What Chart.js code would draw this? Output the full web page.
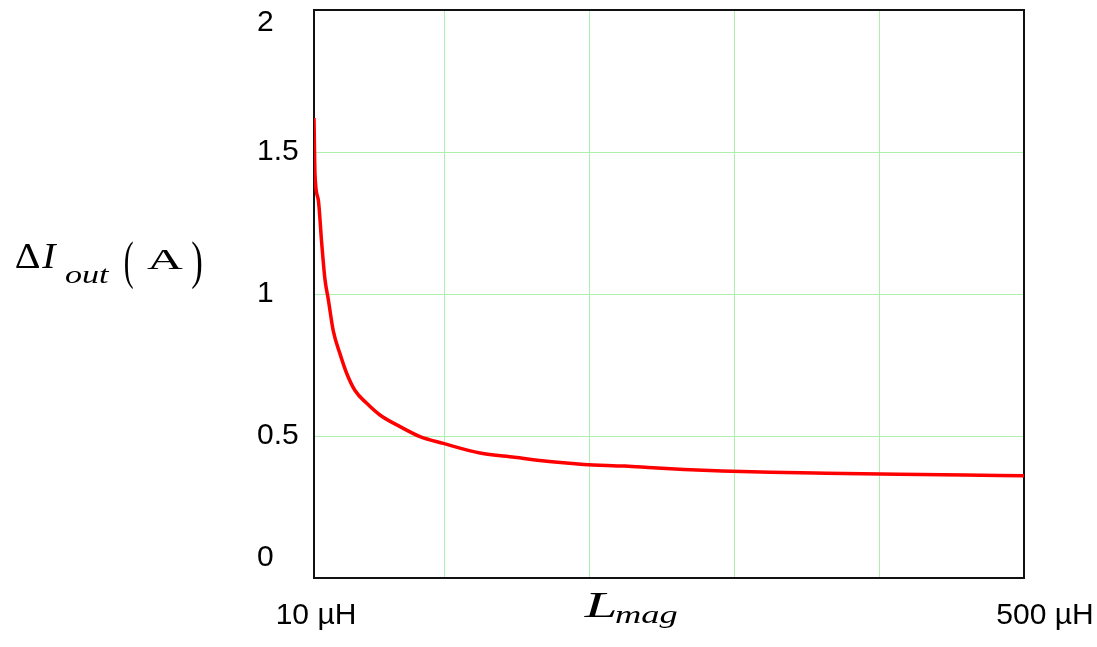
<!DOCTYPE html>
<html>
<head>
<meta charset="utf-8">
<script src="https://cdn.jsdelivr.net/npm/chart.js@4"></script>
<style>
  html, body { margin: 0; padding: 0; background: #fff; }
  #wrap { width: 1097px; height: 647px; position: relative; }
</style>
</head>
<body>
<div id="wrap"><canvas id="rippleChart"></canvas></div>
<script>
// Output current ripple against magnetizing inductance
const inductance = [10, 10.7, 13, 15.3, 17.6, 19.9, 23.3, 27.9, 32.6, 38.3, 46.4, 55.5, 69.4, 83.2, 99.2,
  124.6, 148.4, 172.3, 196.2, 224.8, 244, 265.5, 291.7, 325.2, 363.3, 413.5, 482.7, 500]; // µH
const rippleCurrent = [1.62, 1.42, 1.33, 1.18, 1.05, 0.98, 0.87, 0.79, 0.72, 0.66, 0.615, 0.574, 0.533, 0.498, 0.474,
  0.44, 0.425, 0.41, 0.4, 0.394, 0.388, 0.382, 0.377, 0.3725, 0.369, 0.365, 0.361, 0.36]; // A

const yTicks = [0, 0.5, 1, 1.5, 2];
const yTickLabels = ['0', '0.5', '1', '1.5', '2'];
const xGridValues = [100, 200, 300, 400];
const xEnds = [10, 500];
const xEndLabels = ['10 µH', '500 µH'];

const gridGreen = '#adf0ad';
const labelFont = '30px "Liberation Sans", Arial, sans-serif';
const serif = '"Liberation Serif", "Times New Roman", serif';

// draws text so its ink spans [left, right], stretching it sideways if needed
function fitText(ctx, text, font, left, right, baseline) {
  ctx.save();
  ctx.font = font;
  ctx.textAlign = 'left';
  ctx.textBaseline = 'alphabetic';
  const m = ctx.measureText(text);
  const ink = m.actualBoundingBoxLeft + m.actualBoundingBoxRight;
  ctx.translate(left, baseline);
  ctx.scale((right - left) / ink, 1);
  ctx.fillText(text, m.actualBoundingBoxLeft, 0);
  ctx.restore();
}

// frame around the plot, tick labels and the two axis titles
const frameAndLabels = {
  id: 'frameAndLabels',
  beforeDatasetsDraw(chart) {
    const { ctx, chartArea: a } = chart;
    ctx.save();
    ctx.strokeStyle = '#111';
    ctx.lineWidth = 2;
    ctx.strokeRect(a.left, a.top, a.right - a.left, a.bottom - a.top);
    ctx.restore();
  },
  afterDraw(chart) {
    const { ctx, chartArea: a, scales } = chart;
    ctx.save();
    ctx.fillStyle = '#000';

    // y labels, kept inside the frame at both ends
    ctx.font = labelFont;
    ctx.textAlign = 'left';
    ctx.textBaseline = 'middle';
    yTicks.forEach((v, i) => {
      let y = scales.y.getPixelForValue(v);
      y = Math.min(Math.max(y, a.top + 12.5), a.bottom - 20);
      ctx.fillText(yTickLabels[i], 257, y);
    });

    // x labels at the two ends only
    const xShift = [2, 21];
    ctx.textAlign = 'center';
    ctx.textBaseline = 'alphabetic';
    xEnds.forEach((v, i) => {
      ctx.fillText(xEndLabels[i], scales.x.getPixelForValue(v) + xShift[i], 624);
    });

    // ΔI_out (A)
    fitText(ctx, 'Δ', '35px ' + serif, 16, 40, 268);
    fitText(ctx, 'I', 'italic 35px ' + serif, 41, 58, 268);
    fitText(ctx, 'out', 'italic 25px ' + serif, 65, 110, 282.5);
    fitText(ctx, '(', '52px ' + serif, 125, 133, 278);
    fitText(ctx, 'A', '29px ' + serif, 147, 183, 269.3);
    fitText(ctx, ')', '52px ' + serif, 192, 202, 278);

    // L_mag
    fitText(ctx, 'L', 'italic 35px ' + serif, 583, 615, 617);
    fitText(ctx, 'mag', 'italic 25px ' + serif, 615, 677, 622.5);

    ctx.restore();
  }
};

new Chart(document.getElementById('rippleChart'), {
  type: 'line',
  data: {
    datasets: [{
      data: inductance.map((x, i) => ({ x, y: rippleCurrent[i] })),
      borderColor: '#ff0000',
      borderWidth: 3.5,
      pointRadius: 0,
      cubicInterpolationMode: 'monotone',
      fill: false,
    }],
  },
  options: {
    responsive: true,
    maintainAspectRatio: false,
    animation: false,
    layout: { padding: { left: 314, right: 73, top: 10, bottom: 69 } },
    plugins: { legend: { display: false }, tooltip: { enabled: false } },
    scales: {
      x: {
        type: 'linear',
        min: 10,
        max: 500,
        afterBuildTicks: s => { s.ticks = [10, ...xGridValues, 500].map(value => ({ value })); },
        afterFit: s => { s.height = 0; },
        ticks: { display: false },
        border: { display: false },
        grid: {
          drawTicks: false,
          lineWidth: 1,
          color: c => (c.tick && xGridValues.includes(c.tick.value)) ? gridGreen : 'rgba(0,0,0,0)',
        },
      },
      y: {
        min: 0,
        max: 2,
        afterBuildTicks: s => { s.ticks = yTicks.map(value => ({ value })); },
        afterFit: s => { s.width = 0; },
        ticks: { display: false },
        border: { display: false },
        grid: {
          drawTicks: false,
          lineWidth: 1,
          color: c => (c.tick && c.tick.value > 0 && c.tick.value < 2) ? gridGreen : 'rgba(0,0,0,0)',
        },
      },
    },
  },
  plugins: [frameAndLabels],
});
</script>
</body>
</html>
